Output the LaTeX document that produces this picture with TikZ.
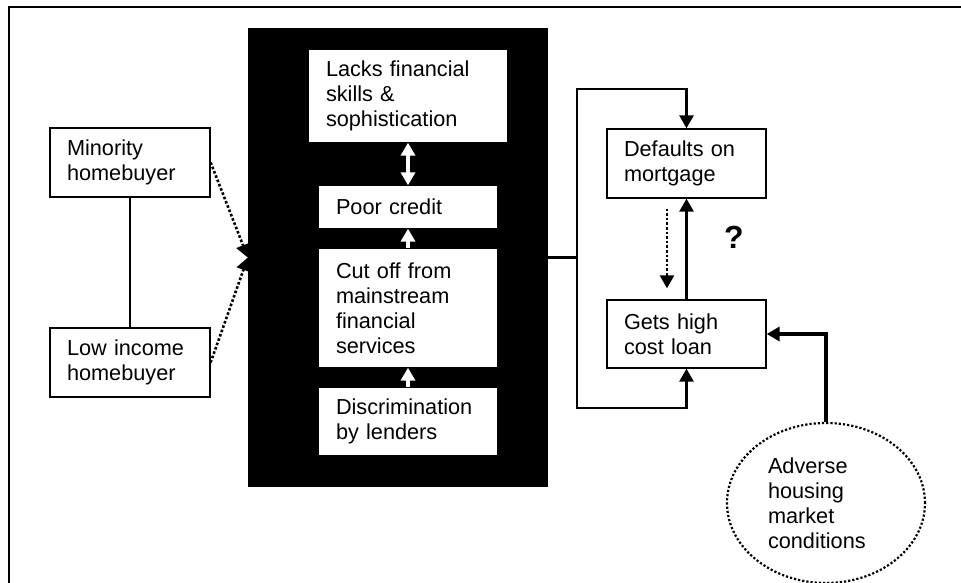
\documentclass[tikz,border=0pt]{standalone}
\usepackage{fontspec}
\setmainfont{Liberation Sans}
\usetikzlibrary{arrows.meta, shapes.geometric, positioning}
\tikzset{
  box_font/.style = {font=\fontsize{21.7}{25}\selectfont},
  mark_font/.style = {font=\fontsize{32}{36}\selectfont\bfseries},
  box_border/.style = {draw, line width=1.3pt, fill=white}
}
\tikzset{
  box/.style 2 args = {box_font, box_border, align=left, inner xsep=17pt, inner ysep=0pt,
    text width=#1, minimum height=#2},
  inner_box/.style 2 args = {box={#1}{#2}, draw=none},
  cloud/.style = {box_font, ellipse, draw, dotted, line width=2.2pt, align=left, inner sep=0pt,
    text width=116pt, minimum width=198pt, minimum height=160pt},
  black_box/.style = {rectangle, fill=black, minimum width=300pt, minimum height=459pt, inner sep=0pt}
}
\tikzset{
  tip/.style = {-{Triangle[width=14pt, length=13pt]}},
  both_tips/.style = {{Triangle[width=14pt, length=13pt]}-{Triangle[width=14pt, length=13pt]}},
  link/.style = {line width=2.6pt},
  dotted_link/.style = {line width=2.6pt, dotted},
  plain_link/.style = {line width=1.3pt},
  white_link/.style = {white, line width=4pt}
}

\begin{document}
\begin{tikzpicture}[x=1pt, y=-1pt]
        \useasboundingbox (0,0) rectangle (961,583);
        \clip (0,0) rectangle (961,583);

        % Frame
        \draw[line width=1.6pt] (9,7) rectangle (1000,650);

        % Homebuyers
        \node[box={126pt}{69pt}] at (130,162.5) (minority) {
            Minority\\ homebuyer
            };
        \node[box={126pt}{69pt}] at (130,362.5) (low_income) {
            Low income\\ homebuyer
            };

        % Black box and its causes
        \node[black_box] at (398,257.5) (black) {};
        \node[inner_box={164pt}{92pt}, fill=white] at (408,96) (lacks) {
            Lacks financial\\ skills \&\\ sophistication
            };
        \node[inner_box={144pt}{42pt}, fill=white] at (408,207) (poor) {
            Poor credit
            };
        \node[inner_box={144pt}{118pt}, fill=white] at (408,308) (cut_off) {
            Cut off from\\ mainstream\\ financial\\ services
            };
        \node[inner_box={144pt}{67pt}, fill=white] at (408,421.5) (discrim) {
            Discrimination\\ by lenders
            };

        % Outcomes
        \node[box={125pt}{69pt}] at (686.5,163.5) (defaults) {
            Defaults on\\ mortgage
            };
        \node[box={125pt}{68pt}] at (686.5,334) (gets) {
            Gets high\\ cost loan
            };
        \node[mark_font] at (734,237.5) (question) {?};
        \node[cloud] at (826,503) (adverse) {
            Adverse\\ housing\\ market\\ conditions
            };

        % Arrows and lines
        \coordinate (top_bend) at (577,89);
        \coordinate (bottom_bend) at (577,408);

        \draw[plain_link] (minority.south)--(low_income.north);
        \draw[dotted_link, tip] (minority.east)--(black.west);
        \draw[dotted_link, tip] (low_income.east)--(black.west);

        \draw[white_link, {Triangle[width=14pt, length=13pt]}-{Triangle[width=14pt, length=13pt]}] (lacks.south)--(poor.north);
        \draw[white_link, -{Triangle[width=14pt, length=13pt]}] (cut_off.north)--(poor.south);
        \draw[white_link, -{Triangle[width=14pt, length=13pt]}] (discrim.north)--(cut_off.south);

        \draw[link] (black.east)--(black.east -| top_bend);
        \draw[link, both_tips] (gets.south) |- (bottom_bend)--(top_bend) -| (defaults.north);
        \draw[link, tip] (gets.north)--(defaults.south);
        \draw[dotted_link, tip] ([xshift=-19.5pt, yshift=-10pt]defaults.south)--([xshift=-19.5pt, yshift=11pt]gets.north);
        \draw[link, line width=3.5pt, tip] (adverse.north) |- (gets.east);
    \end{tikzpicture}
\end{document}
